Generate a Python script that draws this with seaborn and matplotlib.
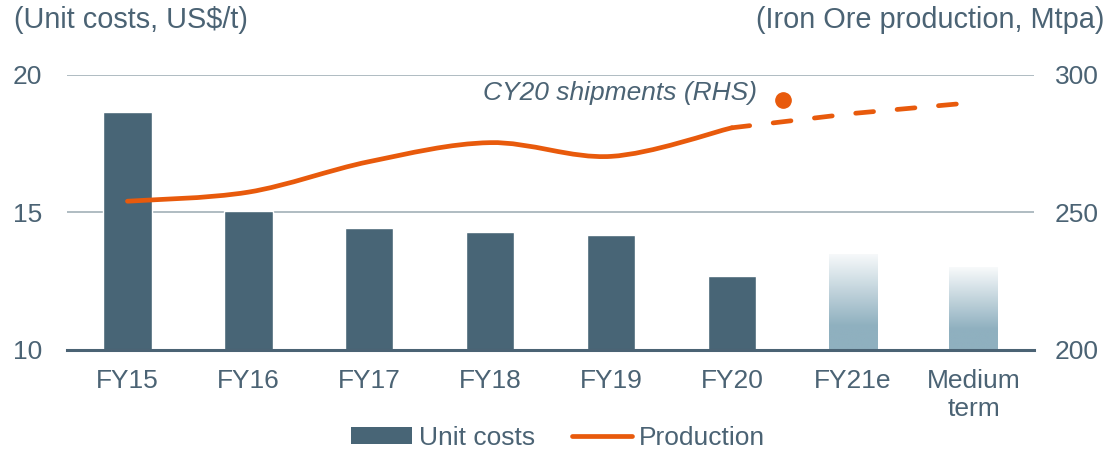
import numpy as np
import matplotlib
matplotlib.use("Agg")
import matplotlib.pyplot as plt
from matplotlib.path import Path
from matplotlib.patches import PathPatch, Patch
from matplotlib.lines import Line2D
from matplotlib.colors import LinearSegmentedColormap
import seaborn as sns

# ---- data ----
categories = ["FY15", "FY16", "FY17", "FY18", "FY19", "FY20", "FY21e", "Medium\nterm"]
unit_costs = [18.65, 15.05, 14.42, 14.28, 14.17, 12.68, 13.5, 13.0]
estimate_bars = [6, 7]  # FY21e and Medium term drawn with a fade

production_idx = [0, 1, 2, 3, 4, 5]
production = [254.1, 257.4, 268.5, 275.4, 270.4, 280.8]
outlook_idx = [5, 6, 7]
outlook = [280.8, 286.0, 290.0]
cy20_pos = 5.42
cy20_shipments = 290.9

# ---- style ----
BAR = "#486576"
ORANGE = "#e85a0c"
TXT = "#4b6374"
GRID = "#9aa9b1"
FADE_BOTTOM = "#8fb0bf"

sns.set_theme(style="white")
plt.rcParams["font.family"] = ["Liberation Sans", "DejaVu Sans"]
FS = 19
FS_TITLE = 20.8


def smooth_path(xs, ys):
    """Excel-like smoothed line as cubic bezier segments."""
    pts = np.column_stack([xs, ys]).astype(float)
    n = len(pts)
    verts = [pts[0]]
    codes = [Path.MOVETO]
    for i in range(n - 1):
        p_prev = pts[i - 1] if i > 0 else pts[i]
        p_next2 = pts[i + 2] if i + 2 < n else pts[i + 1]
        c1 = pts[i] + (pts[i + 1] - p_prev) / 6
        c2 = pts[i + 1] - (p_next2 - pts[i]) / 6
        verts += [c1, c2, pts[i + 1]]
        codes += [Path.CURVE4] * 3
    return Path(verts, codes)


fig = plt.figure(figsize=(11.1, 4.49), dpi=100)
ax = fig.add_axes([0.0604, 0.2205, 0.8712, 0.6125])

sns.barplot(x=categories, y=unit_costs, color=BAR, saturation=1, width=0.4, ax=ax)

ax.set_ylim(10, 20)
ax.set_xlim(-0.5, len(categories) - 0.5)

# faded bars for the estimates
fade = LinearSegmentedColormap.from_list(
    "fade", [(0, FADE_BOTTOM), (0.25, FADE_BOTTOM), (1, "#f8fafb")])
grad = np.linspace(0, 1, 256).reshape(-1, 1)
for i in estimate_bars:
    bar = ax.patches[i]
    bar.set_facecolor("none")
    bar.set_edgecolor("none")
    x0 = bar.get_x()
    img = ax.imshow(grad, cmap=fade, origin="lower", aspect="auto",
                    extent=[x0, x0 + bar.get_width(), 10, bar.get_height()],
                    zorder=bar.get_zorder())
    img.set_clip_path(bar)
ax.set_ylim(10, 20)
ax.set_xlim(-0.5, len(categories) - 0.5)

# axes styling
for s in ["top", "left", "right"]:
    ax.spines[s].set_visible(False)
ax.spines["bottom"].set_color(TXT)
ax.spines["bottom"].set_linewidth(2.2)
ax.set_yticks([10, 15, 20])
ax.yaxis.grid(True, color=GRID, linewidth=1.1)
ax.set_axisbelow(True)
ax.tick_params(axis="y", length=0, pad=18, labelsize=FS, labelcolor=TXT)
ax.set_xticks(range(len(categories)))
ax.set_xticklabels(categories)
ax.tick_params(axis="x", which="major", length=0, pad=14, labelsize=FS, labelcolor=TXT)
ax.set_xticks(np.arange(-0.5, len(categories)), minor=True)
ax.tick_params(axis="x", which="minor", length=5, width=2.2, color=TXT, direction="out")
ax.set_xlabel("")
ax.set_ylabel("")

# production on the right axis
ax2 = ax.twinx()
ax2.set_ylim(200, 300)
ax2.set_yticks([200, 250, 300])
for s in ax2.spines.values():
    s.set_visible(False)
ax2.tick_params(axis="y", length=0, pad=15, labelsize=FS, labelcolor=TXT)
ax2.grid(False)

line = PathPatch(smooth_path(production_idx, production), fill=False,
                 edgecolor=ORANGE, linewidth=3.4, capstyle="round", zorder=3)
ax2.add_patch(line)
ax2.plot(outlook_idx, outlook, color=ORANGE, linewidth=3.4,
         dashes=(3.8, 5.0), dash_capstyle="round", zorder=3)
ax2.plot([cy20_pos], [cy20_shipments], "o", color=ORANGE, markersize=11, zorder=4)
ax2.annotate("CY20 shipments (RHS)", xy=(cy20_pos, cy20_shipments),
             xytext=(-18.5, 5), textcoords="offset points",
             ha="right", va="center", fontsize=FS, style="italic", color=TXT)
ax2.set_xlim(-0.5, len(categories) - 0.5)

# axis captions
fig.text(14 / 1110, 1 - 20 / 449, "(Unit costs, US$/t)", ha="left", va="center",
         fontsize=FS_TITLE, color=TXT)
fig.text(1104 / 1110, 1 - 20 / 449, "(Iron Ore production, Mtpa)", ha="right",
         va="center", fontsize=FS_TITLE, color=TXT)

handles = [Patch(facecolor=BAR, edgecolor="none"),
           Line2D([0], [0], color=ORANGE, linewidth=3.4, solid_capstyle="round")]
fig.legend(handles, ["Unit costs", "Production"], loc="center",
           bbox_to_anchor=(0.503, 1 - 438 / 449), ncol=2, frameon=False,
           fontsize=FS, labelcolor=TXT, handlelength=2.3, handleheight=0.6,
           handletextpad=0.25, columnspacing=1.4, borderaxespad=0, borderpad=0)

fig.savefig("out.png", dpi=100)
